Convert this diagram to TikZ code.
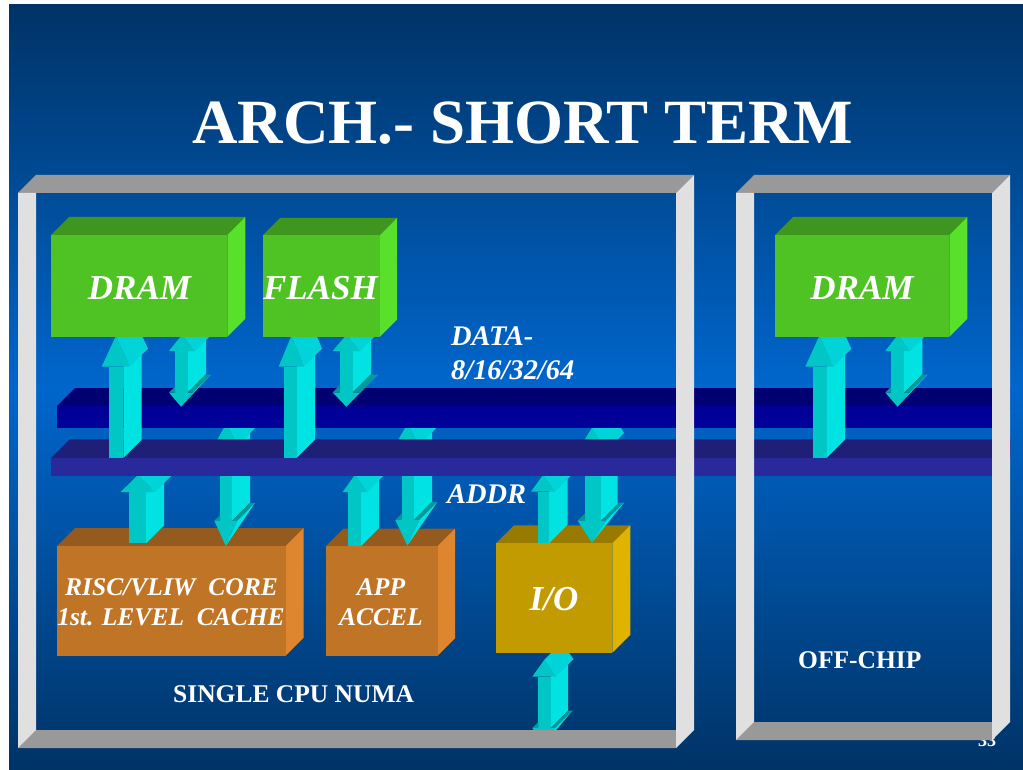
\documentclass[tikz,border=0pt]{standalone}
\usepackage{fontspec}
\setmainfont{Liberation Serif}
\definecolor{slidedark}{HTML}{003366}
\definecolor{slidelight}{HTML}{0066CC}
\definecolor{greenfront}{HTML}{4FC224}
\definecolor{greentop}{HTML}{3E961E}
\definecolor{greenside}{HTML}{59E02A}
\definecolor{orangefront}{HTML}{C07426}
\definecolor{orangetop}{HTML}{955A1D}
\definecolor{orangeside}{HTML}{DE852F}
\definecolor{goldfront}{HTML}{C29B00}
\definecolor{goldtop}{HTML}{997A00}
\definecolor{goldside}{HTML}{E0B300}
\definecolor{datafront}{HTML}{000099}
\definecolor{datatop}{HTML}{000073}
\definecolor{dataside}{HTML}{000099}
\definecolor{addrfront}{HTML}{29299C}
\definecolor{addrtop}{HTML}{1F1F78}
\definecolor{addrside}{HTML}{29299C}
\definecolor{framegrey}{HTML}{999999}
\definecolor{framewhite}{HTML}{E0E0E0}
\definecolor{cyanfront}{HTML}{00C6C6}
\definecolor{cyanside}{HTML}{00E3E3}
\definecolor{cyanback}{HTML}{00D4D8}
\definecolor{cyanledge}{HTML}{009999}
\tikzset{
    textlabel/.style={text=white, inner sep=0pt, anchor=base west},
    boxlabel/.style={text=white, inner sep=0pt, anchor=base, align=center, font=\bfseries\itshape\fontsize{35}{35}\selectfont},
    corelabel/.style={text=white, inner sep=0pt, anchor=base, font=\bfseries\itshape\fontsize{25.5}{25.5}\selectfont},
    buslabel/.style={textlabel, font=\bfseries\itshape\fontsize{28.4}{28.4}\selectfont},
    plainlabel/.style={textlabel, font=\bfseries\fontsize{25.5}{25.5}\selectfont}
}
% x0, x1, ytop, ybot, depth, colour name
\newcommand{\slab}[6]{
    \fill[#6top] (#1,#3) -- ({#1+#5},{#3-#5}) -- ({#2+#5},{#3-#5}) -- (#2,#3) -- cycle;
    \fill[#6side] (#2,#3) -- ({#2+#5},{#3-#5}) -- ({#2+#5},{#4-#5}) -- (#2,#4) -- cycle;
    \fill[#6front] (#1,#3) rectangle (#2,#4);
}
% x0, x1, ytop, ybot, depth
\newcommand{\shaft}[5]{
    \fill[cyanside] (#2,#3) -- ({#2+#5},{#3-#5}) -- ({#2+#5},{#4-#5}) -- (#2,#4) -- cycle;
    \fill[cyanfront] (#1,#3) rectangle (#2,#4);
}
% xleft, xright, ybase, ytip, depth
\newcommand{\headup}[5]{
    \fill[cyanback] ({(#1+#2)/2},#4) -- ({(#1+#2)/2+#5},{#4-#5}) -- ({#2+#5},{#3-#5}) -- (#2,#3) -- cycle;
    \fill[cyanfront] (#1,#3) -- ({(#1+#2)/2},#4) -- (#2,#3) -- cycle;
}
% xleft, x0, x1, xright, ybase, ytip, depth
\newcommand{\headdown}[7]{
    \fill[cyanledge] (#3,#5) -- (#4,#5) -- ({#4+#7},{#5-#7}) -- ({#3+#7},{#5-#7}) -- cycle;
    \fill[cyanledge] (#1,#5) -- (#2,#5) -- (#2,{#5-#2+#1}) -- cycle;
    \fill[cyanside] ({(#1+#4)/2},#6) -- ({#4+#7},{#5-#7}) -- (#4,#5) -- cycle;
    \fill[cyanfront] (#1,#5) -- (#4,#5) -- ({(#1+#4)/2},#6) -- cycle;
}
% xleft, xright, ytop, ybot, depth
\newcommand{\frameshape}[5]{
    \fill[framegrey] (#1,#3) -- ({#1+#5},{#3-#5}) -- ({#2+#5},{#3-#5}) -- (#2,#3) -- cycle;
    \fill[framegrey] (#1,#4) -- ({#1+#5},{#4-#5}) -- (#2,{#4-#5}) -- (#2,#4) -- cycle;
    \fill[framewhite] (#1,#3) -- ({#1+#5},#3) -- ({#1+#5},{#4-#5}) -- (#1,#4) -- cycle;
    \fill[framewhite] (#2,#3) -- ({#2+#5},{#3-#5}) -- ({#2+#5},{#4-#5}) -- (#2,#4) -- cycle;
}
\begin{document}
\begin{tikzpicture}[x=1pt,y=-1pt]
    \useasboundingbox (0,0) rectangle (1023,770);
    \shade[top color=slidedark, bottom color=slidedark, middle color=slidelight] (9,5) rectangle (1023,770);

    \node[textlabel, font=\bfseries\fontsize{18}{18}\selectfont] (pagenumber) at (978,746) {33};

    \slab{57}{285.7}{546}{655.7}{18}{orange}
    \slab{326}{437.7}{546}{655.7}{17.5}{orange}

    \shaft{538.3}{550.7}{676.7}{728}{17.5}
    \headup{532.3}{556}{676.7}{660}{17.5}
    \headdown{532.3}{538.3}{550.7}{555}{728}{745}{17.5}
    \slab{496}{612.3}{543.3}{652.7}{18}{gold}

    \shaft{129.3}{146}{492}{543.3}{18}
    \headup{120.7}{155}{492}{475}{18}
    \shaft{220}{232}{445}{520.7}{18}
    \headup{214.3}{238}{445}{424}{18}
    \headdown{214.3}{220}{232}{237.3}{520.7}{546}{17.7}

    \shaft{348}{361}{492}{546}{18}
    \headup{342.7}{367}{492}{475}{18}
    \shaft{402}{413.7}{445}{520}{18.5}
    \headup{395.3}{419.3}{445}{424}{18}
    \headdown{395.3}{402}{413.7}{419.3}{520}{545.7}{18}

    \shaft{537.7}{549}{491.7}{543.3}{18.5}
    \headup{531}{555}{491.7}{475}{18}
    \shaft{585}{601}{451}{520.7}{16.5}
    \headup{577.7}{606}{451}{428}{18}
    \headdown{577.7}{585}{601}{606}{520.7}{542.7}{18}

    \slab{57}{992}{406}{428}{18}{data}
    \slab{51}{992}{458}{476}{18.7}{addr}

    \shaft{109}{123.3}{366.7}{458}{18.4}
    \headup{101.7}{130}{366.7}{336}{18}
    \shaft{175}{187.7}{351}{392.5}{18.3}
    \headup{169}{195}{351}{335}{18}
    \headdown{169}{175}{187.7}{193}{392.5}{406.7}{18}

    \shaft{284}{296.7}{366.7}{458}{18.3}
    \headup{278.7}{304}{366.7}{336}{18}
    \shaft{340}{352.7}{351}{392.5}{18.3}
    \headup{332.7}{360}{351}{335}{18}
    \headdown{332.7}{340}{352.7}{360}{392.5}{406.7}{18}

    \shaft{812.7}{826.7}{366.7}{458}{18.3}
    \headup{805.3}{833.3}{366.7}{336}{18}
    \shaft{891}{904}{351}{392.5}{18.3}
    \headup{885.3}{910}{351}{335}{18}
    \headdown{885.3}{891}{904}{909.7}{392.5}{406.7}{18}

    \slab{51}{227.3}{235}{336.7}{18}{green}
    \slab{263}{380}{235}{336.7}{17}{green}
    \slab{775}{949.3}{235}{336.7}{18}{green}

    \frameshape{18}{676}{193}{748}{18}
    \frameshape{736}{992}{193}{740}{18}

    \node[textlabel, font=\bfseries\fontsize{63}{63}\selectfont] (title) at (192,144) {ARCH.- SHORT TERM};
    \node[boxlabel] (dramleft) at (139.5,299) {DRAM};
    \node[boxlabel] (flash) at (320.5,299) {FLASH};
    \node[boxlabel] (dramright) at (862,299) {DRAM};
    \node[buslabel] (datalabel) at (451,345) {DATA-};
    \node[buslabel] (datawidth) at (451,379) {8/16/32/64};
    \node[buslabel] (addrlabel) at (447,503) {ADDR};
    \node[corelabel] (coreone) at (171.5,595) {RISC/VLIW\ \ CORE};
    \node[corelabel] (coretwo) at (171,625) {1st. LEVEL\ \ CACHE};
    \node[corelabel] (appone) at (381,595) {APP};
    \node[corelabel] (apptwo) at (381,625) {ACCEL};
    \node[boxlabel] (iolabel) at (554,610) {I/O};
    \node[plainlabel] (numa) at (173,702) {SINGLE CPU NUMA};
    \node[plainlabel] (offchip) at (798,668) {OFF-CHIP};
\end{tikzpicture}
\end{document}
